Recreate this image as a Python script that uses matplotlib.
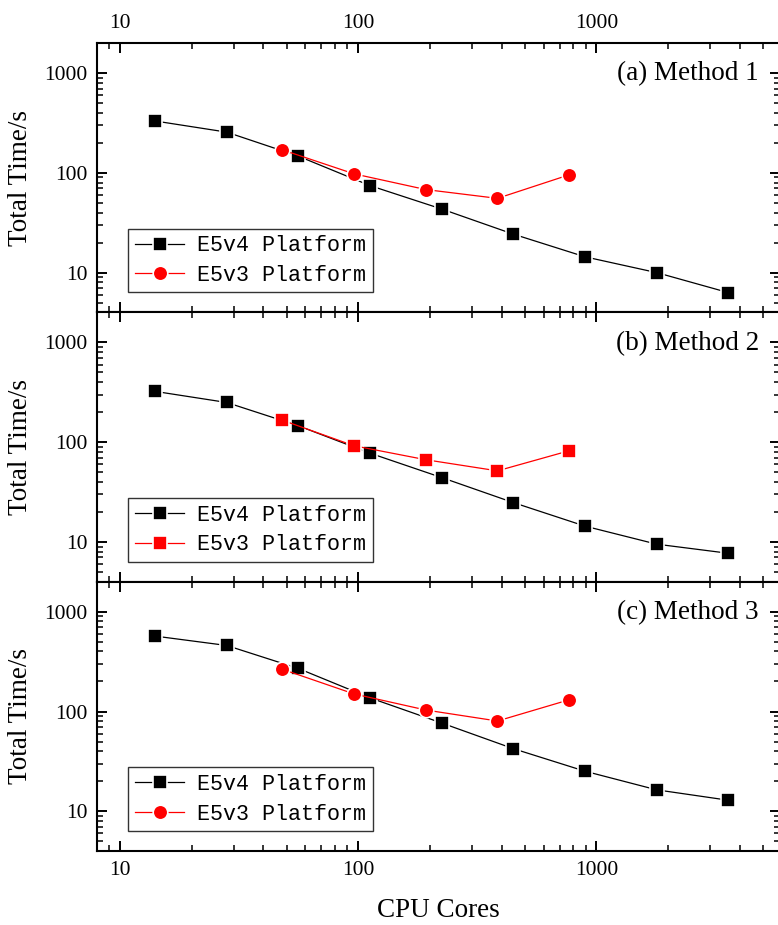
import numpy as np
import matplotlib
matplotlib.use("Agg")
import matplotlib.pyplot as plt
import matplotlib.ticker as ticker

plt.rcParams['font.family'] = ['Liberation Serif', 'DejaVu Serif']

# CPU cores for the two platforms
cores_v4 = [14, 28, 56, 112, 224, 448, 896, 1792, 3584]
cores_v3 = [48, 96, 192, 384, 768]

# total time (s) per method
time_v4_m1 = [331, 256, 147, 74.5, 43.4, 24.3, 14.4, 10.0, 6.3]
time_v3_m1 = [170, 97.7, 68, 55.5, 95.5]
time_v4_m2 = [323, 250, 146, 77.6, 44.2, 24.8, 14.4, 9.5, 7.7]
time_v3_m2 = [166, 92, 66.7, 51.6, 82]
time_v4_m3 = [570, 459, 270, 137, 76.7, 42.4, 25.2, 16.4, 12.9]
time_v3_m3 = [265, 150, 103.5, 80.3, 131]

titles = ["(a) Method 1", "(b) Method 2", "(c) Method 3"]
v3_markers = ['o', 's', 'o']
series = [(time_v4_m1, time_v3_m1), (time_v4_m2, time_v3_m2), (time_v4_m3, time_v3_m3)]

fig, axes = plt.subplots(3, 1, sharex=True, figsize=(7.78, 9.25), dpi=100)
fig.subplots_adjust(left=0.1247, right=1.0026, top=0.9535, bottom=0.080, hspace=0)

fmt = ticker.FuncFormatter(lambda v, p: '%d' % v)

for i, ax in enumerate(axes):
    t4, t3 = series[i]
    ax.plot(cores_v4, t4, color='black', lw=0.9, marker='s', ms=9.5,
            mfc='black', mec='white', mew=1.2, label='E5v4 Platform')
    ax.plot(cores_v3, t3, color='red', lw=0.9, marker=v3_markers[i],
            ms=10.5 if v3_markers[i] == 'o' else 9.5,
            mfc='red', mec='white', mew=1.2, label='E5v3 Platform')
    ax.set_xscale('log')
    ax.set_yscale('log')
    ax.set_xlim(8, 5900)
    ax.set_ylim(4, 2000)
    ax.xaxis.set_major_formatter(fmt)
    ax.yaxis.set_major_formatter(fmt)
    ax.yaxis.set_minor_formatter(ticker.NullFormatter())
    ax.xaxis.set_minor_formatter(ticker.NullFormatter())
    ax.tick_params(which='both', direction='in', top=True, right=True,
                   labelsize=15.5, labelbottom=(i == 2), labeltop=(i == 0))
    ax.tick_params(which='major', length=7, width=1.4, pad=7)
    ax.tick_params(which='minor', length=4, width=1.1)
    for sp in ax.spines.values():
        sp.set_linewidth(1.5)
    ax.set_ylabel("Total Time/s", fontsize=19.5)
    ax.yaxis.set_label_coords(-0.094, 0.5)
    ax.text(0.969, 0.885, titles[i], transform=ax.transAxes, ha='right',
            va='center', fontsize=19.5)
    leg = ax.legend(loc='lower left', bbox_to_anchor=(0.0455, 0.074),
                    prop={'family': 'Liberation Mono', 'size': 15.6},
                    fancybox=False, framealpha=1, edgecolor='#333333',
                    borderaxespad=0, handlelength=2.3, handletextpad=0.6,
                    labelspacing=0.4, borderpad=0.3)
    leg.get_frame().set_linewidth(1.0)

axes[2].set_xlabel("CPU Cores", fontsize=19.5, labelpad=13)

fig.savefig("out.png", dpi=100)
